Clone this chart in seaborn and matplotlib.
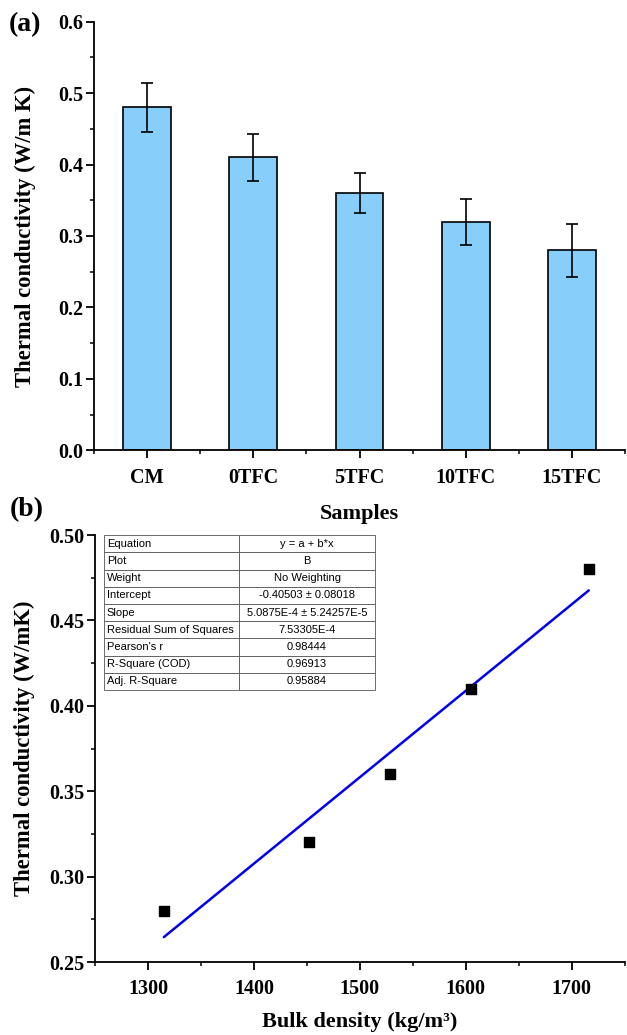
import numpy as np
import pandas as pd
import matplotlib
matplotlib.use('Agg')
import matplotlib.pyplot as plt
from matplotlib.ticker import MultipleLocator, FixedLocator, FormatStrFormatter
import seaborn as sns

samples = ['CM', '0TFC', '5TFC', '10TFC', '15TFC']
conductivity = [0.48, 0.41, 0.36, 0.32, 0.28]
cond_err = [0.034, 0.033, 0.028, 0.032, 0.037]

density = [1315, 1452, 1528, 1605, 1716]
cond_b = [0.28, 0.32, 0.36, 0.41, 0.48]

fit_rows = ['Equation', 'Plot', 'Weight', 'Intercept', 'Slope',
            'Residual Sum of Squares', "Pearson's r", 'R-Square (COD)', 'Adj. R-Square']
fit_vals = ['y = a + b*x', 'B', 'No Weighting', '-0.40503 \u00b1 0.08018',
            '5.0875E-4 \u00b1 5.24257E-5', '7.53305E-4', '0.98444', '0.96913', '0.95884']

sns.set_style('ticks')
plt.rcParams['font.family'] = ['Liberation Serif', 'DejaVu Serif']
plt.rcParams['font.weight'] = 'bold'
plt.rcParams['axes.labelweight'] = 'bold'
plt.rcParams['text.color'] = 'black'
plt.rcParams['axes.labelcolor'] = 'black'
plt.rcParams['axes.edgecolor'] = 'black'
plt.rcParams['axes.linewidth'] = 1.3
plt.rcParams['xtick.major.width'] = 1.3
plt.rcParams['ytick.major.width'] = 1.3
plt.rcParams['xtick.minor.width'] = 1.1
plt.rcParams['ytick.minor.width'] = 1.1
plt.rcParams['xtick.major.size'] = 5.5
plt.rcParams['ytick.major.size'] = 5.5
plt.rcParams['xtick.minor.size'] = 3
plt.rcParams['ytick.minor.size'] = 3
plt.rcParams['xtick.color'] = 'black'
plt.rcParams['ytick.color'] = 'black'

fig = plt.figure(figsize=(6.27, 10.35), dpi=100)

# (a) bar chart
ax1 = fig.add_axes([0.150, 0.565, 0.847, 0.414])
df = pd.DataFrame({'sample': samples, 'k': conductivity})
sns.barplot(data=df, x='sample', y='k', color='#87cefa', width=0.45,
            edgecolor='black', linewidth=1.2, saturation=1, ax=ax1)
ax1.errorbar(range(len(samples)), conductivity, yerr=cond_err, fmt='none',
             ecolor='black', elinewidth=1.2, capsize=4.5, capthick=1.2)
ax1.set_xlim(-0.5, 4.5)
ax1.set_ylim(0, 0.6)
ax1.yaxis.set_major_locator(MultipleLocator(0.1))
ax1.yaxis.set_minor_locator(MultipleLocator(0.05))
ax1.xaxis.set_minor_locator(FixedLocator([-0.5, 0.5, 1.5, 2.5, 3.5, 4.5]))
ax1.yaxis.set_major_formatter(FormatStrFormatter('%.1f'))
ax1.set_xlabel('Samples', fontsize=16, labelpad=12)
ax1.set_ylabel('Thermal conductivity (W/m K)', fontsize=16.3, labelpad=16)
ax1.tick_params(labelsize=14.5)
ax1.tick_params(axis='x', pad=7)
ax1.tick_params(axis='y', pad=2)
sns.despine(ax=ax1)
fig.text(0.014, 0.976, '(a)', fontsize=20, fontweight='bold', va='center')

# (b) regression
ax2 = fig.add_axes([0.1515, 0.0705, 0.845, 0.4125])
sns.regplot(x=density, y=cond_b, ci=None, marker='s', ax=ax2, truncate=True,
            scatter_kws={'color': 'black', 's': 55, 'zorder': 3,
                         'edgecolors': 'black', 'alpha': 1},
            line_kws={'color': '#0000ee', 'linewidth': 1.8})
ax2.set_xlim(1250, 1750)
ax2.set_ylim(0.25, 0.50)
ax2.xaxis.set_major_locator(MultipleLocator(100))
ax2.xaxis.set_minor_locator(MultipleLocator(50))
ax2.yaxis.set_major_locator(MultipleLocator(0.05))
ax2.yaxis.set_minor_locator(MultipleLocator(0.025))
ax2.yaxis.set_major_formatter(FormatStrFormatter('%.2f'))
ax2.set_xlabel('Bulk density (kg/m\u00b3)', fontsize=16, labelpad=9)
ax2.set_ylabel('Thermal conductivity (W/mK)', fontsize=16.3, labelpad=10)
ax2.tick_params(labelsize=14.5)
ax2.tick_params(axis='x', pad=7)
ax2.tick_params(axis='y', pad=2)
sns.despine(ax=ax2)
fig.text(0.016, 0.508, '(b)', fontsize=20, fontweight='bold', va='center')

cells = [[r, v] for r, v in zip(fit_rows, fit_vals)]
tbl = ax2.table(cellText=cells, cellLoc='center', colWidths=[0.255, 0.255],
                bbox=[0.017, 0.637, 0.511, 0.363])
tbl.auto_set_font_size(False)
for (r, c), cell in tbl.get_celld().items():
    cell.set_linewidth(0.6)
    cell.set_edgecolor('#555555')
    cell.get_text().set_fontsize(8)
    cell.get_text().set_fontweight('normal')
    cell.get_text().set_fontfamily('Liberation Sans')
    if c == 0:
        cell.get_text().set_ha('left')
        cell.PAD = 0.02

fig.savefig('out.png', dpi=100)
